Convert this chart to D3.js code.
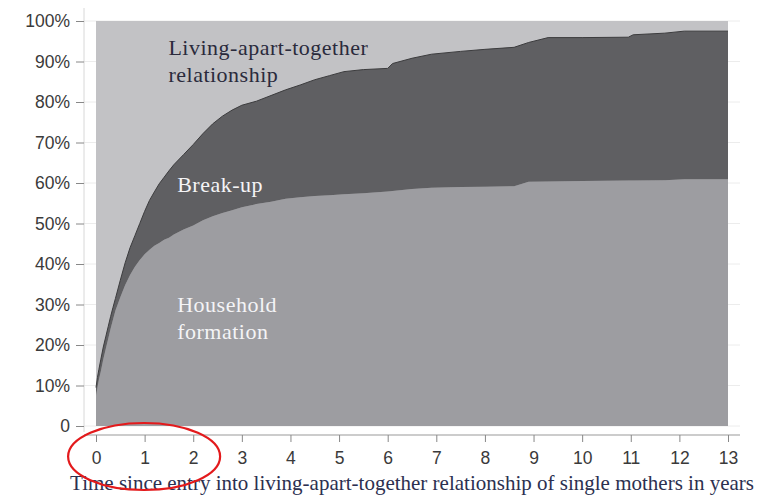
<!DOCTYPE html>
<html><head><meta charset="utf-8">
<script src="https://cdn.jsdelivr.net/npm/d3@7"></script>
<style>body{margin:0;background:#fff}svg{display:block}</style>
</head><body>
<svg id="c" width="777" height="497"></svg>
<script>
const years = [0,0.03,0.06,0.1,0.15,0.2,0.25,0.3,0.35,0.4,0.5,0.6,0.7,0.8,0.9,1.0,1.1,1.2,1.3,1.4,1.5,1.6,1.8,2.0,2.2,2.4,2.6,2.8,3.0,3.3,3.6,3.9,4.2,4.5,4.8,5.1,5.5,6.0,6.1,6.5,6.9,7.5,8.0,8.6,8.9,9.3,10.0,10.95,11.05,11.7,12.1,13.0];
const household = [7.5,9.5,11.5,13.5,16.5,19,21.5,24,26.3,28.5,31.8,34.8,37.3,39.3,41,42.4,43.5,44.5,45.2,46,46.5,47.3,48.5,49.5,50.8,51.8,52.6,53.3,54,54.8,55.4,56.1,56.5,56.8,57,57.2,57.5,57.9,58,58.5,58.8,59,59.1,59.2,60.3,60.4,60.5,60.6,60.6,60.7,60.9,60.9];
const total = [9.5,12,14,16.5,19.5,22,24.5,27,29.3,31.5,36,40.3,44,47,50,53,55.7,57.8,59.8,61.4,63,64.5,67,69.5,72.2,74.6,76.5,78,79.2,80.2,81.6,83,84.2,85.5,86.5,87.5,88,88.3,89.5,90.8,91.8,92.5,93,93.5,94.7,95.9,95.9,96,96.6,97,97.5,97.5];
const breakup = total.map((v,i)=>+(v-household[i]).toFixed(1));
const xTicks = [0,1,2,3,4,5,6,7,8,9,10,11,12,13];
const yTicks = [0,10,20,30,40,50,60,70,80,90,100];
const yTickLabels = ["0","10%","20%","30%","40%","50%","60%","70%","80%","90%","100%"];
const areaLabels = [
  {lines:["Living-apart-together","relationship"], t:1.49, v:91.6, color:"#2a2a3c"},
  {lines:["Break-up"], t:1.67, v:57.8, color:"#f4f4f6"},
  {lines:["Household","formation"], t:1.67, v:28.1, color:"#f4f4f6"}
];
const xTitle = "Time since entry into living-apart-together relationship of single mothers in years";

const svg = d3.select("#c");
const x = d3.scaleLinear().domain([0,13]).range([96,728]);
const y = d3.scaleLinear().domain([0,100]).range([426,21]);

// gridlines
svg.append("g").selectAll("line").data(yTicks).join("line")
  .attr("x1",84).attr("x2",740).attr("y1",d=>y(d)).attr("y2",d=>y(d))
  .attr("stroke","#ececec").attr("stroke-width",1);

// background LAT
svg.append("rect").attr("x",x(0)).attr("y",y(100)).attr("width",x(13)-x(0)).attr("height",y(0)-y(100)).attr("fill","#c2c2c5");

const data = years.map((t,i)=>({t, household:household[i], breakup:breakup[i]}));
const stack = d3.stack().keys(["household","breakup"])(data);
const area = d3.area().x(d=>x(d.data.t)).y0(d=>y(d[0])).y1(d=>y(d[1]));
const fills = {household:"#9d9da1", breakup:"#5f5f62"};
svg.append("g").selectAll("path").data(stack).join("path")
  .attr("d",area).attr("fill",d=>fills[d.key]);
// top edge outline
const line = d3.line().x(d=>x(d.data.t)).y(d=>y(d[1]));
svg.append("path").attr("d",line(stack[1])).attr("fill","none").attr("stroke","#3c3c3e").attr("stroke-width",1);

// y axis
const ya = svg.append("g").attr("transform","translate(84,0)")
  .call(d3.axisLeft(y).tickValues(yTicks).tickFormat((d,i)=>yTickLabels[i]).tickSize(8).tickPadding(6));
ya.select(".domain").attr("d","M0,8V432").attr("stroke","#d8d8d8");
ya.selectAll(".tick line").attr("stroke","#888");
ya.selectAll("text").attr("font-family","Liberation Sans, Arial, sans-serif").attr("font-size",17.5).attr("fill","#3a3a3a");

// x axis
const xa = svg.append("g").attr("transform","translate(0,435)")
  .call(d3.axisBottom(x).tickValues(xTicks).tickFormat(d3.format("d")).tickSize(7).tickPadding(10));
xa.select(".domain").attr("d","M84,0H740").attr("stroke","#999");
xa.selectAll(".tick line").attr("stroke","#888");
xa.selectAll("text").attr("font-family","Liberation Sans, Arial, sans-serif").attr("font-size",17.5).attr("fill","#3a3a3a");

svg.append("text").attr("x",412).attr("y",490).attr("text-anchor","middle")
  .attr("font-family","Liberation Serif, Times New Roman, serif").attr("font-size",21).attr("fill","#2c3050")
  .text(xTitle);

// area labels
areaLabels.forEach(l=>{
  const tx = svg.append("text").attr("x",x(l.t)).attr("y",y(l.v))
    .attr("font-family","Liberation Serif, Times New Roman, serif").attr("font-size",22)
    .attr("letter-spacing",0.5).attr("fill",l.color);
  l.lines.forEach((s,i)=>tx.append("tspan").attr("x",x(l.t)).attr("dy",i?26.5:0).text(s));
});

// red ellipse annotation
svg.append("ellipse").attr("cx",(x(0)+x(2))/2-0.5).attr("cy",456.5).attr("rx",76).attr("ry",33.5)
  .attr("fill","none").attr("stroke","#e31a1c").attr("stroke-width",2.2);
</script>
</body></html>
